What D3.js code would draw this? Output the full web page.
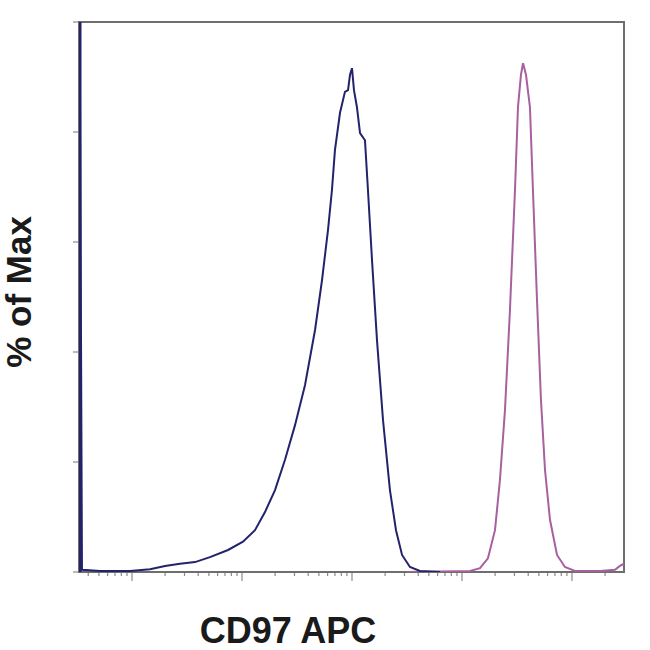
<!DOCTYPE html>
<html><head><meta charset="utf-8">
<script src="https://cdn.jsdelivr.net/npm/d3@7"></script>
<style>body{margin:0;background:#fff}svg{display:block}</style>
</head><body><div id="c"></div>
<script>
// x values are log10 of fluorescence (decades), y values are % of Max
const blueX = [0.518,0.545,0.709,0.982,1.164,1.3,1.436,1.573,1.709,1.873,2.009,2.118,2.209,2.3,2.391,2.482,2.573,2.664,2.727,2.782,2.818,2.845,2.891,2.936,2.964,2.982,3.0,3.018,3.045,3.073,3.118,3.145,3.182,3.227,3.282,3.345,3.4,3.455,3.527,3.618,3.8];
const blueY = [130,0.4,0.2,0.2,0.5,1.1,1.5,1.8,2.7,4.0,5.5,7.6,10.9,14.9,20.4,26.7,34,44,53,62.2,69.5,76.7,83.5,87.3,87.6,90.4,91.6,87.6,84.5,79.8,78.5,69.5,56.7,42.2,27.6,14.9,7.6,3.1,0.9,0.2,0];
const pinkX = [3.5,4.073,4.164,4.236,4.3,4.345,4.391,4.436,4.482,4.509,4.536,4.555,4.582,4.618,4.645,4.682,4.718,4.755,4.8,4.864,4.936,5.027,5.255,5.391,5.436,5.473];
const pinkY = [0,0.2,0.7,2.5,7.6,16.7,29.5,47.6,69.5,84.5,90.4,92.5,90.4,84.5,69.5,49.5,31.3,18.5,9.5,3.1,0.9,0.2,0.2,0.4,1.1,1.5];
const yTicks = [0,20,40,60,80,100];
const xMajor = [1,2,3,4,5];
const xDomain = [0.518,5.473];
const xLabel = "CD97 APC";
const yLabel = "% of Max";

const W=650,H=650, L=79,R=624,T=22,B=572;
const svg=d3.select("#c").append("svg").attr("width",W).attr("height",H);
const x=d3.scaleLinear().domain(xDomain).range([L,R]);
const y=d3.scaleLinear().domain([0,100]).range([B,T]);

svg.append("defs").append("clipPath").attr("id","clip").append("rect")
  .attr("x",L).attr("y",T).attr("width",R-L).attr("height",B-T);

// minor ticks
const xMinor=[];
for(let d=0; d<=5; d++) for(let k=2;k<=9;k++){const v=d+Math.log10(k); if(v>xDomain[0]&&v<xDomain[1]) xMinor.push(v);}
const g=svg.append("g");
g.selectAll(".mn").data(xMinor).join("line").attr("x1",d=>x(d)).attr("x2",d=>x(d))
  .attr("y1",B).attr("y2",B+4).attr("stroke","#8a8a8a").attr("stroke-width",1.2);
g.selectAll(".mj").data(xMajor).join("line").attr("x1",d=>x(d)).attr("x2",d=>x(d))
  .attr("y1",B).attr("y2",B+9).attr("stroke","#8a8a8a").attr("stroke-width",1.2);
g.selectAll(".yt").data(yTicks).join("line").attr("x1",L-6).attr("x2",L)
  .attr("y1",d=>y(d)).attr("y2",d=>y(d)).attr("stroke","#8a8a8a").attr("stroke-width",1.2);

// frame
svg.append("rect").attr("x",L).attr("y",T).attr("width",R-L).attr("height",B-T)
  .attr("fill","none").attr("stroke","#6e6e6e").attr("stroke-width",2);

const line=d3.line().x(d=>x(d[0])).y(d=>y(d[1]));
const cg=svg.append("g").attr("clip-path","url(#clip)");
cg.append("path").datum(pinkX.map((v,i)=>[v,pinkY[i]])).attr("d",line)
  .attr("fill","none").attr("stroke","#a8609f").attr("stroke-width",2);
cg.append("path").datum(blueX.map((v,i)=>[v,blueY[i]])).attr("d",line)
  .attr("fill","none").attr("stroke","#23236b").attr("stroke-width",2);
// left spike edge thickness
cg.append("line").attr("x1",x(xDomain[0])+1).attr("x2",x(xDomain[0])+1).attr("y1",T).attr("y2",B)
  .attr("stroke","#23236b").attr("stroke-width",3);

svg.append("text").attr("x",288).attr("y",643).attr("text-anchor","middle")
  .attr("font-family","Liberation Sans, Arial, sans-serif").attr("font-size",36).attr("font-weight","bold")
  .attr("fill","#1a1a1a").text(xLabel);
svg.append("text").attr("transform","translate(31,292) rotate(-90)").attr("text-anchor","middle")
  .attr("font-family","Liberation Sans, Arial, sans-serif").attr("font-size",35).attr("font-weight","bold")
  .attr("fill","#1a1a1a").text(yLabel);
</script></body></html>
